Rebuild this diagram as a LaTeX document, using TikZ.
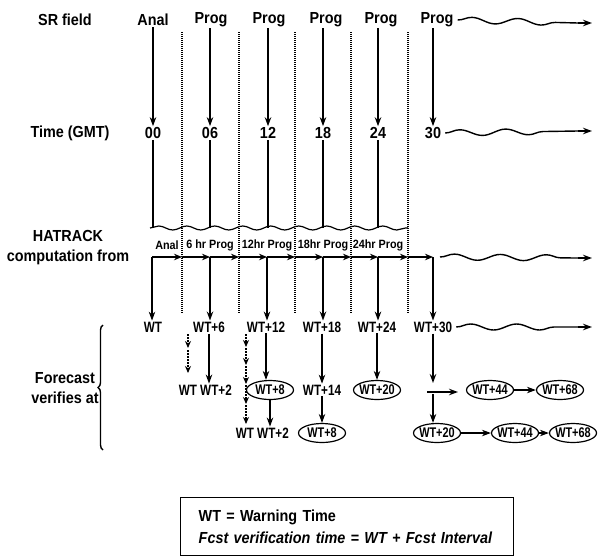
\documentclass[tikz,border=0pt]{standalone}
\usepackage{fontspec}
\setmainfont{Liberation Sans}[FakeStretch=0.9]
\newfontfamily\condfont{Liberation Sans}[FakeStretch=0.78]
\usetikzlibrary{arrows.meta,decorations.pathmorphing,decorations.pathreplacing,shapes.geometric,positioning}

\begin{document}
\begin{tikzpicture}[
  x=1pt, y=-1pt,
  lbl/.style={font=\fontsize{16}{20}\selectfont\bfseries, inner sep=1pt},
  hrl/.style={font=\fontsize{12}{14}\selectfont\bfseries, inner sep=1pt},
  wtl/.style={font=\condfont\fontsize{15}{17}\selectfont\bfseries, inner sep=1pt},
  oval/.style={font=\condfont\fontsize{14}{16}\selectfont\bfseries, ellipse, draw, line width=1.2pt,
    inner sep=-4pt, minimum width=47pt, minimum height=19pt},
  arr/.style={line width=1.4pt, -{Stealth[length=9pt,width=6.5pt]}},
  darr/.style={line width=1.4pt, dash pattern=on 1.5pt off 1.5pt, -{Stealth[length=7pt,width=6pt]}},
  sep/.style={line width=1.4pt, dash pattern=on 1pt off 1pt},
  wavy/.style={line width=1.4pt, decorate, decoration={snake, amplitude=3pt, segment length=46pt, post length=14pt}},
  bar/.style={line width=2.2pt, -{Stealth[length=8pt,width=6.5pt]}}
]
\useasboundingbox (0,0) rectangle (599,557);
%% ─── Row labels ──────────────────────────────────────────────────────────────
\node[lbl] (lsr) at (65,20) {SR field};
\node[lbl] (ltime) at (70,133) {Time (GMT)};
\node[lbl,align=center] (lhat) at (68,248) {HATRACK\\computation from};
\node[lbl,align=center] (lfc) at (65,388) {Forecast\\verifies at};
%% ─── SR field and time rows ──────────────────────────────────────────────────
\node[lbl] (sr0) at (153,20) {Anal};
\foreach \i/\x in {1/211,2/269,3/326,4/381,5/437}
  \node[lbl] (sr\i) at (\x,20) {Prog};
\foreach \i/\x/\t in {0/153/00,1/210/06,2/268/12,3/323/18,4/378/24,5/433/30}
  \node[lbl] (t\i) at (\x,133) {\t};
\foreach \i in {0,...,5} \draw[arr] (sr\i.south -| t\i) -- (t\i.north);
\coordinate (srend) at (592,23);
\coordinate (srtip) at (578,23);
\coordinate (tend) at (592,131);
\coordinate (ttip) at (578,131);
\draw[wavy] ([xshift=3pt]sr5.east) -- (srtip);
\draw[arr] (srtip) -- (srend);
\draw[wavy] ([xshift=3pt]t5.east) -- (ttip);
\draw[arr] (ttip) -- (tend);
%% ─── Dotted separators ───────────────────────────────────────────────────────
\foreach \x in {182,239,295,351,408} \draw[sep] (\x,32) -- (\x,314);
%% ─── Wavy join above HATRACK ─────────────────────────────────────────────────
\coordinate (wl) at (150,228);
\coordinate (wr) at (408,228);
\draw[line width=1.2pt,decorate,decoration={snake,amplitude=2pt,segment length=28pt}] (wl) -- (wr);
\foreach \i in {0,...,4} \draw[line width=1.4pt] (t\i.south) -- (t\i |- wl);
%% ─── HATRACK computation ─────────────────────────────────────────────────────
\node[hrl] (h0) at (167,245) {Anal};
\foreach \i/\x/\t in {1/210/6 hr Prog,2/267/12hr Prog,3/323/18hr Prog,4/378/24hr Prog}
  \node[hrl] (h\i) at (\x,245) {\t};
\foreach \x [count=\k from 0] in {152,182,210,239,267,295,323,351,378,408,433}
  \coordinate (b\k) at (\x,257);
\foreach \k [evaluate=\k as \n using int(\k+1)] in {0,...,9}
  \draw[bar] (b\k) -- (b\n);
\coordinate (bend) at (592,258);
\coordinate (btip) at (578,258);
\draw[wavy] ([xshift=7pt]b10) -- (btip);
\draw[arr] (btip) -- (bend);
%% ─── Warning time row ────────────────────────────────────────────────────────
\foreach \i/\x/\t in {0/153/WT,1/209/WT+6,2/266/WT+12,3/322/WT+18,4/377/WT+24,5/433/WT+30}
  \node[wtl] (w\i) at (\x,327) {\t};
\foreach \i/\k in {0/0,1/2,2/4,3/6,4/8,5/10}
  \draw[arr] (b\k) -- (b\k |- w\i.north);
\coordinate (wend) at (592,327);
\coordinate (wtip) at (578,327);
\draw[wavy] ([xshift=3pt]w5.east) -- (wtip);
\draw[arr] (wtip) -- (wend);
%% ─── Forecast verification rows ──────────────────────────────────────────────
\node[wtl] (fwt) at (188,390) {WT};
\node[wtl] (fwt2) at (216,390) {WT+2};
\node[oval] (fwt8) at (270,390) {WT+8};
\node[wtl] (fwt14) at (322,390) {WT+14};
\node[oval] (fwt20) at (377,390) {WT+20};
\node[oval] (fwt44) at (490,390) {WT+44};
\node[oval] (fwt68) at (560,390) {WT+68};
\node[wtl] (gwt) at (245,433) {WT};
\node[wtl] (gwt2) at (273,433) {WT+2};
\node[oval] (gwt8) at (322,433) {WT+8};
\node[oval] (gwt20) at (437,433) {WT+20};
\node[oval] (gwt44) at (515,433) {WT+44};
\node[oval] (gwt68) at (573,433) {WT+68};
% dashed chains
\foreach \a/\b in {334/348,350/373} \draw[darr] (188,\a) -- (188,\b);
\foreach \a/\b in {334/347,348/365,366/384,385/404,405/424} \draw[darr] (246,\a) -- (246,\b);
% solid paths
\draw[arr] (w1.south) -- (w1.south |- fwt2.north);
\draw[arr] (w2.south) -- (w2.south |- fwt8.north);
\draw[arr] (fwt8.south) -- (fwt8.south |- gwt2.north);
\draw[arr] (w3.south) -- (fwt14.north);
\draw[arr] (fwt14.south) -- (gwt8.north);
\draw[arr] (w4.south) -- (fwt20.north);
\coordinate (fork) at (433,383);
\coordinate (forkl) at (427,392);
\coordinate (forkr) at (458,392);
\coordinate (forkd) at (433,394);
\draw[arr] (w5.south) -- (fork);
\draw[arr] (forkl) -- (forkr);
\draw[arr] (forkd) -- (forkd |- gwt20.north);
\draw[arr] (fwt44.east) -- (fwt68.west);
\draw[arr] (gwt20.east) -- (gwt44.west);
\draw[arr] (gwt44.east) -- (gwt68.west);
%% ─── Brace ───────────────────────────────────────────────────────────────────
\coordinate (brt) at (103,325);
\coordinate (brb) at (103,450);
\draw[line width=1.4pt,decorate,decoration={brace,amplitude=5pt}] (brb) -- (brt);
%% ─── Key ─────────────────────────────────────────────────────────────────────
\node[draw,line width=1.4pt,anchor=north west,text width=297pt,inner xsep=18pt,minimum height=58pt,
  align=left,font=\fontsize{16}{22}\selectfont\bfseries] (key) at (180,497)
  {WT = Warning Time\\\itshape Fcst verification time = WT + Fcst Interval};
\end{tikzpicture}
\end{document}
